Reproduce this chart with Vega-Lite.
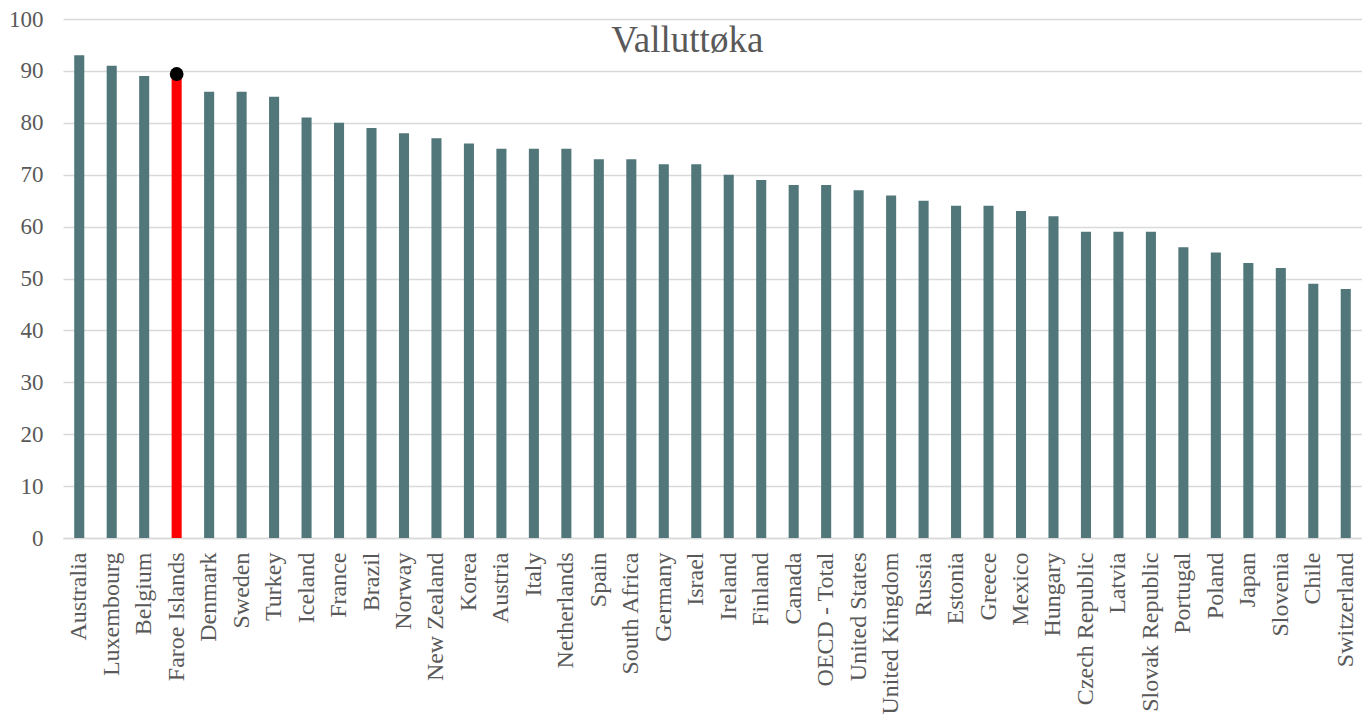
{
  "$schema": "https://vega.github.io/schema/vega-lite/v6.json",
  "autosize": "none",
  "width": 1299,
  "height": 519,
  "padding": {"left": 63, "top": 19, "right": 0, "bottom": 178},
  "background": "white",
  "data": {
    "values": [
      {"country": "Australia", "value": 93},
      {"country": "Luxembourg", "value": 91},
      {"country": "Belgium", "value": 89},
      {"country": "Faroe Islands", "value": 89.4},
      {"country": "Denmark", "value": 86},
      {"country": "Sweden", "value": 86},
      {"country": "Turkey", "value": 85},
      {"country": "Iceland", "value": 81},
      {"country": "France", "value": 80},
      {"country": "Brazil", "value": 79},
      {"country": "Norway", "value": 78},
      {"country": "New Zealand", "value": 77},
      {"country": "Korea", "value": 76},
      {"country": "Austria", "value": 75},
      {"country": "Italy", "value": 75},
      {"country": "Netherlands", "value": 75},
      {"country": "Spain", "value": 73},
      {"country": "South Africa", "value": 73},
      {"country": "Germany", "value": 72},
      {"country": "Israel", "value": 72},
      {"country": "Ireland", "value": 70},
      {"country": "Finland", "value": 69},
      {"country": "Canada", "value": 68},
      {"country": "OECD - Total", "value": 68},
      {"country": "United States", "value": 67},
      {"country": "United Kingdom", "value": 66},
      {"country": "Russia", "value": 65},
      {"country": "Estonia", "value": 64},
      {"country": "Greece", "value": 64},
      {"country": "Mexico", "value": 63},
      {"country": "Hungary", "value": 62},
      {"country": "Czech Republic", "value": 59},
      {"country": "Latvia", "value": 59},
      {"country": "Slovak Republic", "value": 59},
      {"country": "Portugal", "value": 56},
      {"country": "Poland", "value": 55},
      {"country": "Japan", "value": 53},
      {"country": "Slovenia", "value": 52},
      {"country": "Chile", "value": 49},
      {"country": "Switzerland", "value": 48}
    ]
  },
  "config": {
    "view": {"stroke": null},
    "font": "Liberation Serif"
  },
  "encoding": {
    "x": {
      "field": "country",
      "type": "nominal",
      "sort": null,
      "scale": {"paddingInner": 0.69, "paddingOuter": 0.345},
      "axis": {
        "title": null,
        "labelAngle": -90,
        "labelAlign": "right",
        "labelBaseline": "middle",
        "labelFont": "Liberation Serif",
        "labelFontSize": 24,
        "labelColor": "#595959",
        "labelPadding": 14,
        "labelLimit": 300,
        "ticks": false,
        "domainColor": "#d9d9d9",
        "domainWidth": 1.5,
        "labelOverlap": false
      }
    },
    "y": {
      "field": "value",
      "type": "quantitative",
      "scale": {"domain": [0, 100], "nice": false},
      "axis": {
        "title": null,
        "values": [0, 10, 20, 30, 40, 50, 60, 70, 80, 90, 100],
        "labelFont": "Liberation Serif",
        "labelFontSize": 23,
        "labelColor": "#595959",
        "labelPadding": 20,
        "ticks": false,
        "domain": false,
        "gridColor": "#d9d9d9",
        "gridWidth": 1.5
      }
    }
  },
  "layer": [
    {
      "mark": {"type": "bar"},
      "encoding": {
        "color": {
          "condition": {"test": "datum.country === 'Faroe Islands'", "value": "#ff0000"},
          "value": "#52777a"
        }
      }
    },
    {
      "transform": [{"filter": "datum.country === 'Faroe Islands'"}],
      "mark": {"type": "point", "filled": true, "color": "#000000", "size": 190, "opacity": 1}
    },
    {
      "transform": [{"filter": "datum.country === 'Israel'"}],
      "mark": {
        "type": "text",
        "font": "Liberation Serif",
        "fontSize": 37,
        "color": "#595959",
        "align": "center",
        "baseline": "alphabetic",
        "dx": -9
      },
      "encoding": {
        "y": {"datum": 93.6},
        "text": {"value": "Valluttøka"}
      }
    }
  ]
}
